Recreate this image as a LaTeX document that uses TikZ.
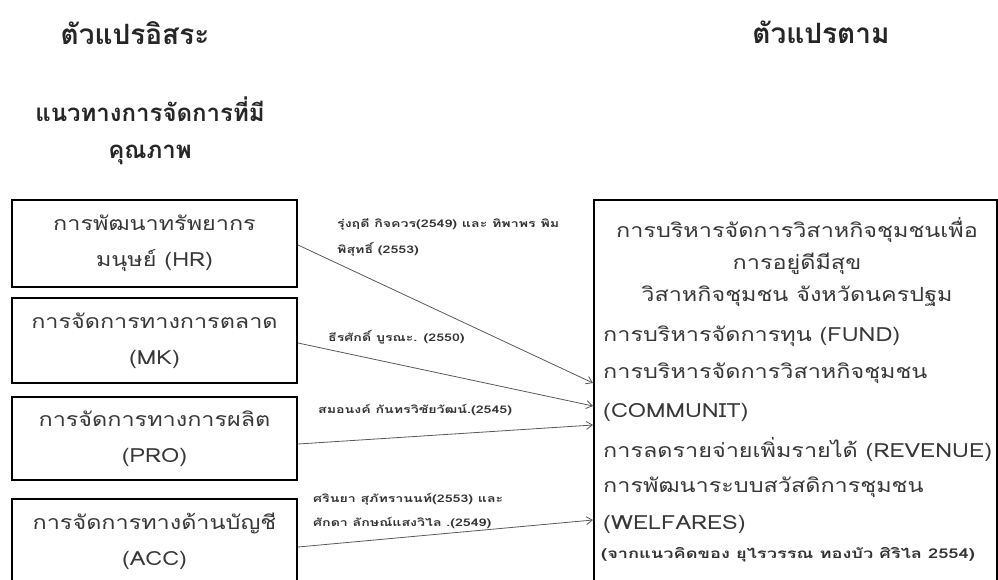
\documentclass[tikz,border=0pt]{standalone}
\usepackage{fontspec}
\setmainfont[Script=Thai, FakeStretch=1.2]{Loma}
\newfontfamily\headfont[Script=Thai]{Loma}
\newfontfamily\reffont[Script=Thai, FakeStretch=1.35]{Loma}
\usetikzlibrary{arrows.meta}

\begin{document}
\begin{tikzpicture}[x=1pt, y=-1pt,
  varbox/.style={draw=black, line width=2pt, minimum width=285pt, inner sep=0pt,
    align=center, text=black!78, font=\fontsize{19.5}{36}\selectfont},
  head/.style={text=black!85, font=\headfont\fontsize{28}{36}\bfseries},
  dvtext/.style={text=black!78, font=\fontsize{19.5}{32}\selectfont},
  ref/.style={text=black!80, align=left, inner sep=0pt, font=\reffont\fontsize{10.5}{26}\bfseries},
  link/.style={draw=black!65, line width=0.8pt, -{Straight Barb[length=6pt,width=8pt]}}]
  \clip (0,0) rectangle (998,579);

  % headings
  \node[head] (iv) at (135,33) {ตัวแปรอิสระ};
  \node[head] (dvh) at (821,32) {ตัวแปรตาม};
  \node[head, align=center, font=\headfont\fontsize{24}{37}\bfseries] (ivsub) at (150,131) {แนวทางการจัดการที่มี\\คุณภาพ};

  % independent variables
  \node[varbox, minimum height=87pt] (hr) at (154.5,243.5) {การพัฒนาทรัพยากร\\มนุษย์ (HR)};
  \node[varbox, minimum height=85pt] (mk) at (154.5,340.5) {การจัดการทางการตลาด\\(MK)};
  \node[varbox, minimum height=83pt] (pro) at (154.5,438.5) {การจัดการทางการผลิต\\(PRO)};
  \node[varbox, minimum height=84pt, anchor=north] (acc) at (154.5,498) {การจัดการทางด้านบัญชี\\(ACC)};

  % dependent variable
  \node[draw=black, line width=2pt, minimum width=403pt, minimum height=400pt] (dv) at (795.5,400) {};
  \node[dvtext, align=center] (dvtitle) at (797,262)
    {การบริหารจัดการวิสาหกิจชุมชนเพื่อ\\การอยู่ดีมีสุข\\วิสาหกิจชุมชน จังหวัดนครปฐม};
  \foreach \t/\y [count=\i] in {การบริหารจัดการทุน (FUND)/336,
      การบริหารจัดการวิสาหกิจชุมชน/373, (COMMUNIT)/412,
      การลดรายจ่ายเพิ่มรายได้ (REVENUE)/450, การพัฒนาระบบสวัสดิการชุมชน/487,
      (WELFARES)/524} {
    \node[dvtext, anchor=west, inner sep=0pt] (dvl\i) at (603,\y) {\t};
  }
  \node[ref, anchor=west, font=\reffont\fontsize{13.5}{16}\bfseries] (dvsrc) at (601,555)
    {(จากแนวคิดของ ยุไรวรรณ ทองบัว ศิริไล 2554)};

  % links
  \draw[link] (hr.east |- 0,245) -- (dv.west |- 0,383);
  \draw[link] (mk.east |- 0,343) -- (dv.west |- 0,406);
  \draw[link] (pro.east |- 0,444) -- (dv.west |- 0,425);
  \draw[link] (acc.east |- 0,547) -- (dv.west |- 0,520);

  % citations
  \node[ref, anchor=north west] (ref1) at (337,218) {รุ่งฤดี กิจควร(2549) และ ทิพาพร พิม\\พิสุทธิ์ (2553)};
  \node[ref, anchor=west] (ref2) at (328,337) {ธีรศักดิ์ บูรณะ. (2550)};
  \node[ref, anchor=west] (ref3) at (318,410) {สมอนงค์ กันทรวิชัยวัฒน์.(2545)};
  \node[ref, anchor=north west, font=\reffont\fontsize{10.5}{24}\bfseries] (ref4) at (313,493) {ศรินยา สุภัทรานนท์(2553) และ\\ศักดา ลักษณ์แสงวิไล .(2549)};
\end{tikzpicture}
\end{document}
